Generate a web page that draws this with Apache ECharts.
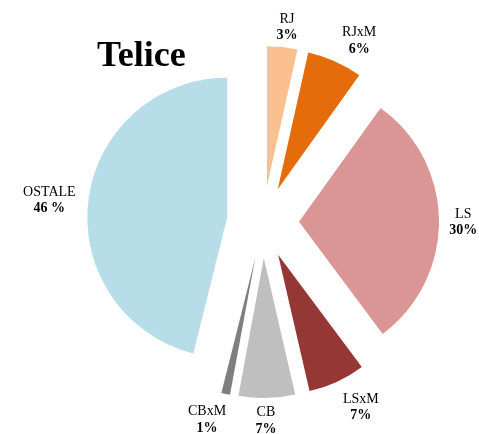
<!DOCTYPE html>
<html>
<head>
<meta charset="utf-8">
<script src="https://cdn.jsdelivr.net/npm/echarts@6/dist/echarts.min.js"></script>
<style>
  html, body { margin: 0; padding: 0; background: #fff; }
  #chart { width: 479px; height: 434px; }
</style>
</head>
<body>
<div id="chart"></div>
<script>
const names = ['RJ', 'RJxM', 'LS', 'LSxM', 'CB', 'CBxM', 'OSTALE'];
const values = [3.5, 6.4, 29.9, 6.6, 6.5, 1.0, 46.1];
const pctLabels = ['3%', '6%', '30%', '7%', '7%', '1%', '46 %'];
const colors = ['#FAC090', '#E46C0A', '#D99694', '#953735', '#BFBFBF', '#7F7F7F', '#B7DEE8'];

// label placement tweaks: line length, distance to line, extra top padding
const labelLen = [19.7, 22.6, 0, 28.4, 23.1, 26.6, 2];
const labelDist = [-27.5, -15, -5.7, -18, -31.5, -17, 7];
const labelPadTop = [0, 0, 4, 0, 0, 0, 0];

const chart = echarts.init(document.getElementById('chart'));

const seriesData = names.map((name, i) => ({
  name: name,
  value: values[i],
  selected: true,
  itemStyle: { color: colors[i] },
  label: {
    distanceToLabelLine: labelDist[i],
    padding: [labelPadTop[i], 0, 0, 0],
    formatter: '{n|' + name + '}\n{p|' + pctLabels[i] + '}',
  },
  labelLine: { length: labelLen[i], length2: 0 },
}));

chart.setOption({
  animation: false,
  backgroundColor: '#fff',
  title: {
    text: 'Telice',
    left: 92,
    top: 34,
    textStyle: {
      fontFamily: 'Liberation Serif',
      fontWeight: 'bold',
      fontSize: 36,
      color: '#000',
    },
  },
  series: [
    {
      type: 'pie',
      center: [263, 222],
      radius: 140,
      startAngle: 90,
      clockwise: true,
      selectedMode: 'multiple',
      selectedOffset: 36,
      avoidLabelOverlap: false,
      itemStyle: { borderWidth: 0 },
      select: { itemStyle: { borderWidth: 0 } },
      emphasis: { disabled: true },
      label: {
        show: true,
        position: 'outside',
        width: 60,
        color: '#000',
        fontFamily: 'Liberation Serif',
        rich: {
          n: {
            fontFamily: 'Liberation Serif',
            fontSize: 14,
            lineHeight: 16.5,
            color: '#000',
            align: 'center',
          },
          p: {
            fontFamily: 'Liberation Serif',
            fontSize: 14,
            fontWeight: 'bold',
            lineHeight: 16.5,
            color: '#000',
            align: 'center',
          },
        },
      },
      labelLine: { show: false },
      data: seriesData,
    },
  ],
});
</script>
</body>
</html>
